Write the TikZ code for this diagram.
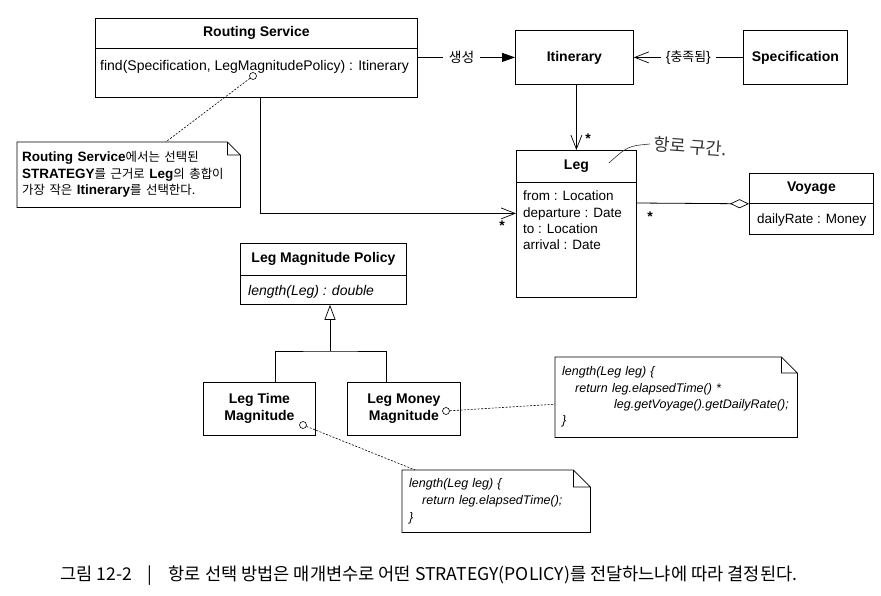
\documentclass[tikz,border=0pt]{standalone}
\usepackage{fontspec}
\setmainfont{Liberation Sans}
\newfontfamily\krfont[Scale=0.92]{Noto Sans CJK KR}
\newfontfamily\capfont{Noto Sans CJK KR}
\newcommand{\kr}[1]{{\krfont #1}}
\usetikzlibrary{arrows.meta}

% folded corner of a UML note: node name, fold size
\newcommand{\notefrm}[2]{%
  \draw[line width=0.8pt] (#1.north west) -- ([xshift=-#2]#1.north east)
    -- ([yshift=-#2]#1.north east) -- (#1.south east) -- (#1.south west) -- cycle
    ([xshift=-#2]#1.north east) |- ([yshift=-#2]#1.north east);}

\begin{document}
\begin{tikzpicture}[x=1pt,y=-1pt,
  box/.style={draw, line width=0.8pt, anchor=north west, inner sep=0pt},
  title/.style={font=\fontsize{14}{17}\selectfont\bfseries, align=center},
  attr/.style={font=\fontsize{13.5}{16.3}\selectfont, align=left, inner sep=0pt},
  notetxt/.style={anchor=north west, align=left, inner xsep=7pt, inner ysep=0pt},
  hole/.style={circle, draw, fill=white, inner sep=0pt, minimum size=7pt, line width=0.6pt},
  dep/.style={dash pattern=on 2pt off 1.5pt, line width=0.6pt},
  link/.style={line width=0.8pt},
  assoc/.style={link, -{Straight Barb[length=14pt,width=11pt,line width=0.7pt]}},
  mult/.style={font=\fontsize{14}{14}\selectfont\bfseries, inner sep=0pt}]

\useasboundingbox (0,0) rectangle (881,595);

% classes
\node[box, title, minimum width=322pt, minimum height=30pt] (rsh) at (95,18) {Routing Service};
\node[box, minimum width=322pt, minimum height=49pt] (rsb) at (95,48) {};
\node[attr, anchor=base west, font=\fontsize{14}{17}\selectfont] (rsop) at (100,70) {find(Specification, LegMagnitudePolicy) : Itinerary};

\node[box, title, minimum width=118pt, minimum height=54pt] (itin) at (515,30) {Itinerary};
\node[box, title, minimum width=104pt, minimum height=54pt] (spec) at (743,30) {Specification};

\node[box, title, minimum width=120pt, minimum height=32pt] (legh) at (516,150) {Leg};
\node[box, minimum width=120pt, minimum height=115pt] (legb) at (516,182) {};
\node[attr, anchor=north west] (legat) at (523,191) {from : Location\\departure : Date\\to : Location\\arrival : Date};

\node[box, title, minimum width=124pt, minimum height=30pt] (voyh) at (749,173) {Voyage};
\node[box, minimum width=124pt, minimum height=31pt] (voyb) at (749,203) {};
\node[attr, anchor=base west] (voyat) at (757,223) {dailyRate : Money};

\node[box, title, minimum width=166pt, minimum height=32pt] (lmph) at (240,243) {Leg Magnitude Policy};
\node[box, minimum width=166pt, minimum height=29pt] (lmpb) at (240,275) {};
\node[attr, anchor=base west, font=\fontsize{14}{17}\selectfont\itshape] (lmpop) at (248,295) {length(Leg) : double};

\node[box, title, minimum width=112pt, minimum height=53pt] (ltm) at (203,382) {Leg Time\\Magnitude};
\node[box, title, minimum width=113pt, minimum height=53pt] (lmm) at (347,382) {Leg Money\\Magnitude};

% notes
\node[notetxt, inner xsep=5pt, text width=213pt, minimum height=65pt, font=\fontsize{13.5}{16.5}\selectfont] (note1) at (17,142)
  {\textbf{Routing Service}\kr{에서는 선택된}\\
   \textbf{STRATEGY}\kr{를 근거로} \textbf{Leg}\kr{의 총합이}\\
   \kr{가장 작은} \textbf{Itinerary}\kr{를 선택한다.}};
\notefrm{note1}{13pt}

\node[notetxt, text width=228pt, minimum height=80pt, font=\fontsize{12.5}{16.3}\selectfont\itshape] (note2) at (555,357)
  {length(Leg leg) \{\\
   \hspace*{13pt}return leg.elapsedTime() *\\
   \hspace*{52pt}leg.getVoyage().getDailyRate();\\
   \}};
\notefrm{note2}{16pt}

\node[notetxt, text width=174pt, minimum height=62pt, font=\fontsize{12.5}{16.8}\selectfont\itshape] (note3) at (402,470)
  {length(Leg leg) \{\\
   \hspace*{13pt}return leg.elapsedTime();\\
   \}};
\notefrm{note3}{17pt}

% anchors of the notes
\node[hole] (h1) at (253,76) {};
\node[hole] (h2) at (446,411) {};
\node[hole] (h3) at (303,425) {};
\draw[dep] (h1) -- ([xshift=37pt]note1.north);
\draw[dep] (h2) -- ([yshift=-7pt]note2.west);
\draw[dep] (h3) -- ([xshift=-81pt]note3.north);

% associations
\draw[link, -{Triangle[length=13pt,width=9pt]}] (rsh.south east |- itin.west) -- node[pos=0.45, fill=white, font=\krfont\fontsize{15}{15}\selectfont, inner xsep=6pt] {생성} (itin.west);
\draw[assoc] (spec.west) -- node[fill=white, font=\fontsize{14}{14}\selectfont, inner xsep=5pt] {\{\kr{충족됨}\}} (itin.east);
\draw[assoc] (itin.south -| legh.north) -- (legh.north);
\node[mult] (m1) at (588,139) {*};
\draw[assoc] ([xshift=165pt]rsb.south west) |- ([yshift=26.5pt]legb.west);
\node[mult] (m2) at (502,226) {*};
\draw[link, -{Diamond[open,length=19pt,width=9pt,line width=0.7pt]}] ([yshift=-21pt]legb.north east) -- (voyh.south west);
\node[mult] (m3) at (650,217) {*};

% generalization
\coordinate (gen) at (330,351);
\draw[link, -{Triangle[open,length=15pt,width=11pt,line width=0.7pt]}] (gen) -- (lmpb.south -| gen);
\draw[link] ([xshift=16pt]ltm.north) |- (gen) -| ([xshift=-18pt]lmm.north);

% handwritten remark
\node[font=\krfont\fontsize{19}{19}\selectfont, text=black!80, rotate=-4, anchor=west] (hw) at (650,144) {항로 구간.};
\draw[line width=0.6pt, black!80] (hw.west) .. controls (628,146) .. ([xshift=-28pt,yshift=-13pt]legh.north east);

% caption
\node[anchor=west, inner sep=0pt, font=\capfont\fontsize{17.6}{18}\selectfont] (cap) at (60,576)
  {그림 12-2\hspace{16pt}|\hspace{16pt}항로 선택 방법은 매개변수로 어떤 STRATEGY(POLICY)를 전달하느냐에 따라 결정된다.};

\end{tikzpicture}
\end{document}
